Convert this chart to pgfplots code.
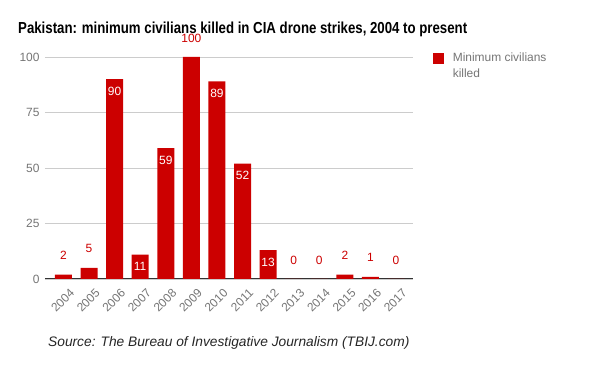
\documentclass[border=0pt]{standalone}
\usepackage{pgfplots}
\pgfplotsset{compat=1.18}
\usepackage{fontspec}
\setmainfont{Liberation Sans}
\newfontfamily\titlefont{Liberation Sans}[FakeStretch=0.83]
\definecolor{barred}{HTML}{CC0000}
\definecolor{tickgray}{HTML}{757575}
\definecolor{gridgray}{HTML}{CCCCCC}
\begin{document}
\begin{tikzpicture}
\path[use as bounding box] (0bp,0bp) rectangle (600bp,371bp);
\node[anchor=base west, inner sep=0pt, font=\titlefont\bfseries\fontsize{16}{19}\selectfont, text=black] at (18bp,337bp) {Pakistan: minimum civilians killed in CIA drone strikes, 2004 to present};
\begin{axis}[
  at={(45bp,92bp)}, anchor=south west,
  scale only axis, width=367.7bp, height=222bp,
  xmin=-0.72, xmax=13.65, ymin=0, ymax=100,
  clip=false,
  axis lines*=left,
  y axis line style={draw=none},
  x axis line style={draw=black!80, line width=1bp, -},
  major tick length=0pt,
  ytick={0,25,50,75,100},
  xtick={0,...,13},
  xticklabels={2004,2005,2006,2007,2008,2009,2010,2011,2012,2013,2014,2015,2016,2017},
  ymajorgrids, grid style={gridgray, line width=0.8bp},
  /pgf/number format/assume math mode=true,
  tick label style={font=\fontsize{12}{14}\selectfont, text=tickgray},
  yticklabel style={anchor=east, xshift=-2bp},
  xticklabel style={rotate=45, anchor=north east, xshift=1bp, yshift=-7bp},
  legend style={at={(1.046,1.036)}, anchor=north west, draw=none, fill=none,
    font=\fontsize{12}{16}\selectfont, text=tickgray, cells={align=left},
    /tikz/every odd column/.append style={column sep=7bp}},
  legend image code/.code={\fill[barred] (0bp,2.5bp) rectangle (11bp,13.5bp);},
]
\addplot[ybar, bar width=17bp, fill=barred, draw=none] coordinates {
  (0,2) (1,5) (2,90) (3,11) (4,59) (5,100) (6,89) (7,52) (8,13) (9,0) (10,0) (11,2) (12,1) (13,0)};
\addlegendentry{Minimum civilians\\killed}
\addplot[draw=none, mark=none, nodes near coords, point meta=explicit symbolic,
  nodes near coords style={text=white, anchor=center, yshift=-12bp, font=\fontsize{12}{14}\selectfont}]
  coordinates {(2,90)[90] (3,11)[11] (4,59)[59] (6,89)[89] (7,52)[52] (8,13)[13]};
\addplot[draw=none, mark=none, nodes near coords, point meta=explicit symbolic,
  nodes near coords style={text=barred, anchor=center, yshift=19bp, font=\fontsize{12}{14}\selectfont}]
  coordinates {(0,2)[2] (1,5)[5] (5,100)[100] (9,0)[0] (10,0)[0] (11,2)[2] (12,1)[1] (13,0)[0]};
\end{axis}
\node[anchor=west, inner sep=0pt, font=\itshape\fontsize{13.8}{16}\selectfont, text=black!85] at (48bp,28bp) {Source: The Bureau of Investigative Journalism (TBIJ.com)};
\end{tikzpicture}
\end{document}
